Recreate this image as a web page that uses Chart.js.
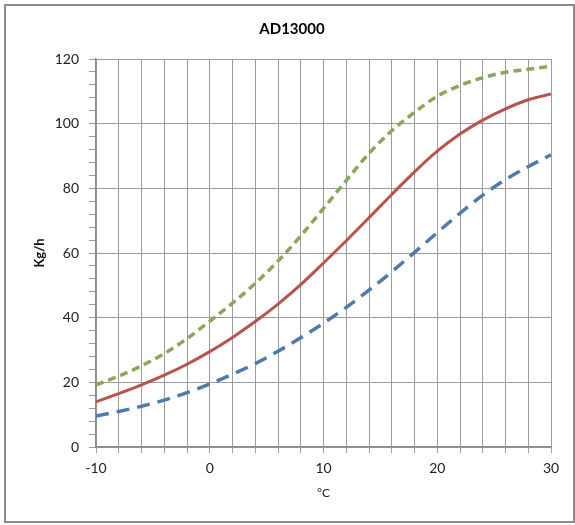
<!DOCTYPE html>
<html>
<head>
<meta charset="utf-8">
<script src="https://cdn.jsdelivr.net/npm/chart.js@4.4.1/dist/chart.umd.min.js"></script>
<style>
  html, body { margin: 0; padding: 0; background: #ffffff; }
  #wrap { position: relative; width: 575px; height: 525px; }
  canvas { display: block; }
</style>
</head>
<body>
<div id="wrap"><canvas id="c" width="575" height="525"></canvas></div>
<script>
const chartTitle = "AD13000";
const xTitle = "°C";
const yTitle = "Kg/h";
const temps = [-10, -8, -6, -4, -2, 0, 2, 4, 6, 8, 10, 12, 14, 16, 18, 20, 22, 24, 26, 28, 30];
const upperSeries = [19.2, 21.9, 25.1, 28.9, 33.5, 38.9, 44.5, 50.6, 57.5, 65.3, 73.8, 82.4, 90.8, 97.8, 103.5, 108.5, 111.8, 114.2, 115.9, 116.8, 117.8];
const middleSeries = [14.0, 16.5, 19.2, 22.2, 25.6, 29.5, 33.9, 38.8, 44.2, 50.2, 56.9, 63.8, 70.9, 78.1, 85.1, 91.5, 96.8, 101.1, 104.6, 107.4, 109.2];
const lowerSeries = [9.6, 11.0, 12.6, 14.5, 16.8, 19.5, 22.5, 25.8, 29.6, 33.8, 38.3, 43.2, 48.5, 54.2, 60.2, 66.3, 72.3, 77.9, 82.7, 86.7, 90.4];

function pts(arr) { return temps.map((t, i) => ({ x: t, y: arr[i] })); }

const FONT = "Lato, 'Open Sans', 'Liberation Sans', sans-serif";
const GRID = '#9c9c9c';
const AXIS = '#8a8a8a';

const decor = {
  id: 'decor',
  afterDraw(chart) {
    const ctx = chart.ctx;
    ctx.save();
    ctx.strokeStyle = '#8c8c8c';
    ctx.lineWidth = 2;
    ctx.strokeRect(5, 5, 569, 517);
    ctx.fillStyle = '#000';
    ctx.font = "bold 15px " + FONT;
    ctx.textAlign = 'center';
    ctx.textBaseline = 'middle';
    ctx.fillText(chartTitle, 292, 29);
    ctx.restore();
  }
};

new Chart(document.getElementById('c'), {
  type: 'line',
  data: {
    datasets: [
      { label: 'upper', data: pts(upperSeries), borderColor: '#8ca65a', borderWidth: 3.5, borderDash: [8, 5], pointRadius: 0, cubicInterpolationMode: 'monotone', fill: false },
      { label: 'middle', data: pts(middleSeries), borderColor: '#b9534f', borderWidth: 3, pointRadius: 0, cubicInterpolationMode: 'monotone', fill: false },
      { label: 'lower', data: pts(lowerSeries), borderColor: '#5079ad', borderWidth: 3.5, borderDash: [13, 8], pointRadius: 0, cubicInterpolationMode: 'monotone', fill: false }
    ]
  },
  options: {
    responsive: false,
    animation: false,
    layout: { padding: { left: 0, top: 59, right: 24, bottom: 0 } },
    plugins: { legend: { display: false }, tooltip: { enabled: false }, title: { display: false } },
    scales: {
      x: {
        type: 'linear', min: -10, max: 30,
        afterFit(s) { s.height = 78; },
        ticks: { stepSize: 2, autoSkip: false, maxRotation: 0, padding: 7, color: '#222', font: { family: FONT, size: 14 },
          callback: v => (v % 10 === 0 ? String(v) : '') },
        grid: { color: GRID, tickColor: GRID, tickLength: 6, lineWidth: 1 },
        border: { color: AXIS, width: 1.5 },
        title: { display: true, text: xTitle, color: '#222', font: { family: FONT, size: 12 }, padding: { top: 0, bottom: 25 } }
      },
      y: {
        min: 0, max: 120,
        afterFit(s) { s.width = 96; },
        ticks: { stepSize: 4, autoSkip: false, padding: 10, color: '#222', font: { family: FONT, size: 14 },
          callback: v => (v % 20 === 0 ? String(v) : '') },
        grid: { color: c => (c.tick && c.tick.value % 20 === 0 ? GRID : 'rgba(0,0,0,0)'), tickColor: GRID, tickLength: 7, lineWidth: 1 },
        border: { color: AXIS, width: 1.5 },
        title: { display: true, text: yTitle, color: '#111', font: { family: FONT, size: 13, weight: 'bold' }, padding: { top: 32, bottom: 0 } }
      }
    }
  },
  plugins: [decor]
});
</script>
</body>
</html>
